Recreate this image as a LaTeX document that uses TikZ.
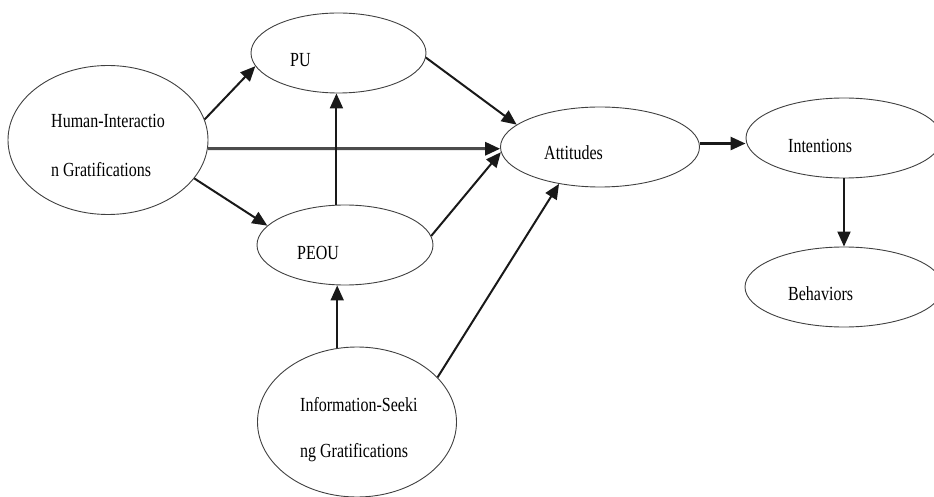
\documentclass[tikz,border=0pt]{standalone}
\usepackage{fontspec}
\setmainfont{Liberation Serif}
\newfontfamily\lblfont[FakeStretch=0.8]{Liberation Serif}
\usetikzlibrary{shapes.geometric,arrows.meta}

\tikzset{
  oval/.style={ellipse, draw=black!75, line width=0.9pt, inner sep=0pt},
  lbl/.style={anchor=base west, inner sep=0pt, font=\lblfont\fontsize{20}{24}\selectfont},
  arr/.style={draw=black!90, line width=2pt, -{Triangle[length=15pt,width=13pt]}},
  thickarr/.style={draw=black!70, line width=3pt,
    -{Triangle[length=15pt,width=13pt,color=black!90]}}
}

\begin{document}
\begin{tikzpicture}[x=1pt,y=-1pt]
\useasboundingbox (0,0) rectangle (934,497);

% constructs
\node[oval, minimum width=200pt, minimum height=149pt] (hi)   at (108,140) {};
\node[oval, minimum width=175pt, minimum height=80pt]  (pu)   at (338.5,53) {};
\node[oval, minimum width=176pt, minimum height=80pt]  (peou) at (345,245) {};
\node[oval, minimum width=199pt, minimum height=150pt] (is)   at (357,422) {};
\node[oval, minimum width=199pt, minimum height=80pt]  (att)  at (600,147) {};
\node[oval, minimum width=196pt, minimum height=80pt]  (int)  at (844,138) {};
\node[oval, minimum width=198pt, minimum height=80pt]  (beh)  at (844,287) {};

% labels
\node[lbl] (hiA) at (51,128) {Human-Interactio};
\node[lbl] (hiB) at (51,177) {n Gratifications};
\node[lbl] (puL) at (290,67) {PU};
\node[lbl] (peL) at (297,259) {PEOU};
\node[lbl] (isA) at (300,411) {Information-Seeki};
\node[lbl] (isB) at (300,457) {ng Gratifications};
\node[lbl] (atL) at (544,160) {Attitudes};
\node[lbl] (inL) at (788,153) {Intentions};
\node[lbl] (beL) at (788,300) {Behaviors};

% paths
\draw[arr] (hi.12.5) -- (pu.189.9);
\draw[thickarr] (hi.-5.8) -- (att.181.7);
\draw[arr] (hi.-24.1) -- (peou.166.3);
\draw[arr] (pu.-3.2) -- (att.165.5);
\draw[arr] (peou.102.7) -- (peou.102.7 |- pu.south);
\draw[arr] (peou.6.6) -- (att.183);
\draw[arr] (is.105.2) -- (is.105.2 |- peou.south);
\draw[arr] (is.29) -- (att.222.5);
\draw[arr, line width=2.6pt] (att.2.9) -- (att.2.9 -| int.west);
\draw[arr] (int.south) -- (beh.north);
\end{tikzpicture}
\end{document}
